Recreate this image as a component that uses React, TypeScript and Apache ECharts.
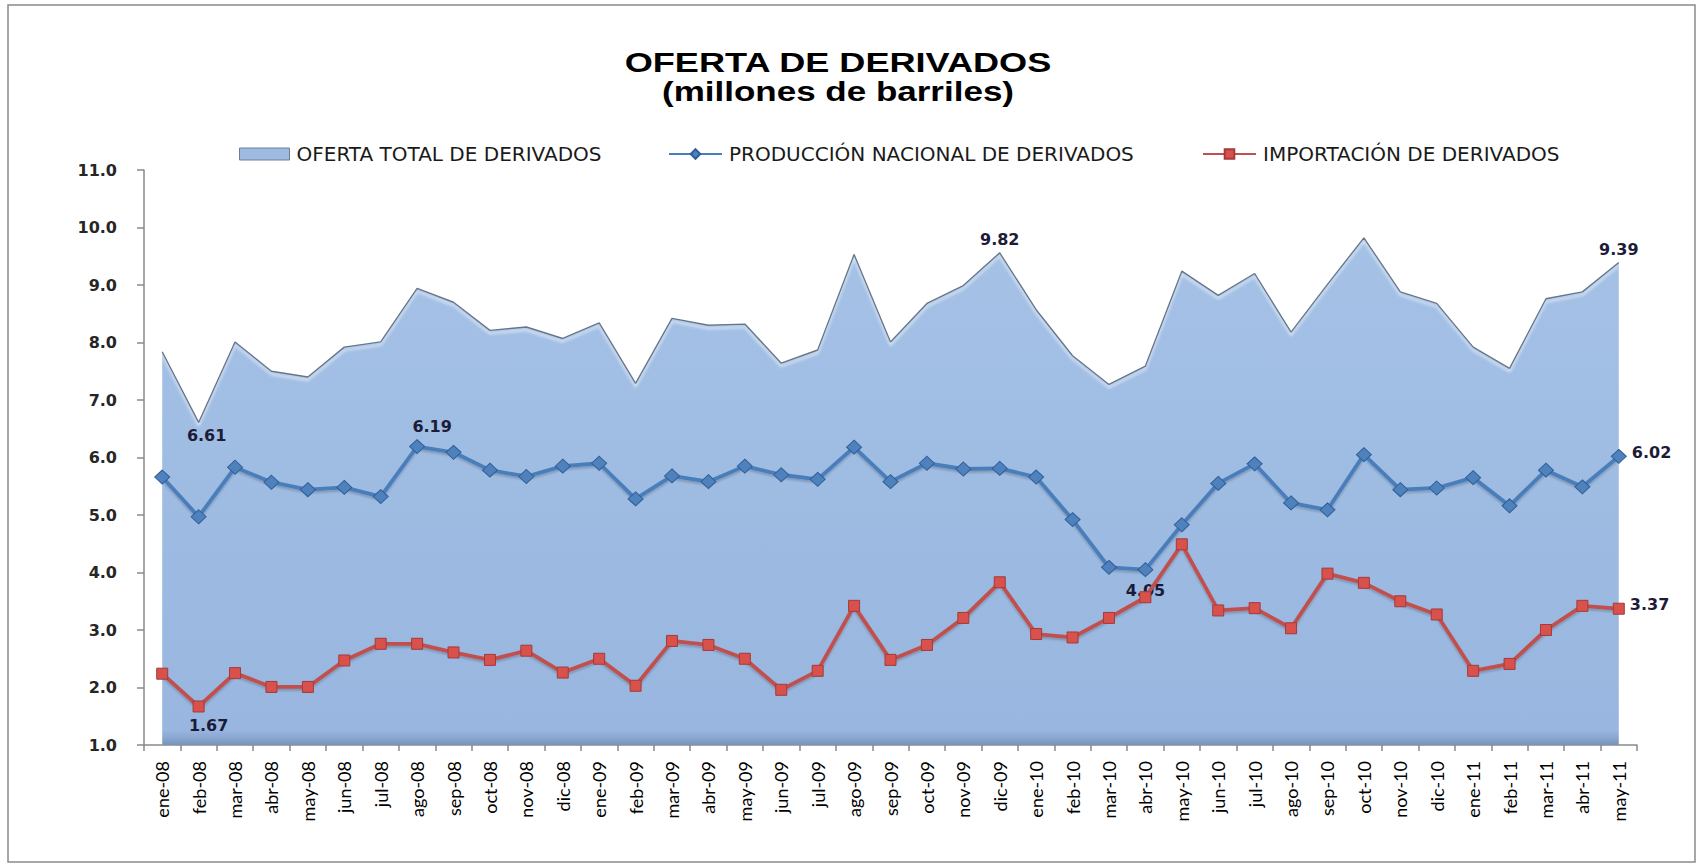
import React, { useEffect, useRef } from "react";
import * as echarts from "echarts";

const categories = [
  "ene-08", "feb-08", "mar-08", "abr-08", "may-08", "jun-08", "jul-08", "ago-08", "sep-08", "oct-08", "nov-08", "dic-08",
  "ene-09", "feb-09", "mar-09", "abr-09", "may-09", "jun-09", "jul-09", "ago-09", "sep-09", "oct-09", "nov-09", "dic-09",
  "ene-10", "feb-10", "mar-10", "abr-10", "may-10", "jun-10", "jul-10", "ago-10", "sep-10", "oct-10", "nov-10", "dic-10",
  "ene-11", "feb-11", "mar-11", "abr-11", "may-11",
];

const ofertaTotal = [
  7.84, 6.61, 8.01, 7.5, 7.4, 7.92, 8.01, 8.94, 8.7, 8.21, 8.27, 8.07,
  8.34, 7.29, 8.42, 8.3, 8.32, 7.64, 7.87, 9.53, 8.01, 8.68, 8.99, 9.56,
  8.57, 7.77, 7.27, 7.59, 9.24, 8.82, 9.2, 8.18, 9.01, 9.82, 8.88, 8.68,
  7.92, 7.55, 8.76, 8.88, 9.39,
];

const produccion = [
  5.66, 4.97, 5.83, 5.57, 5.44, 5.48, 5.32, 6.19, 6.09, 5.78, 5.67, 5.85,
  5.9, 5.28, 5.68, 5.58, 5.85, 5.7, 5.62, 6.18, 5.58, 5.9, 5.8, 5.81,
  5.66, 4.92, 4.09, 4.05, 4.83, 5.55, 5.89, 5.21, 5.09, 6.05, 5.44, 5.47,
  5.65, 5.16, 5.78, 5.49, 6.02,
];

const importacion = [
  2.24, 1.67, 2.25, 2.01, 2.01, 2.47, 2.76, 2.76, 2.61, 2.48, 2.64, 2.26,
  2.5, 2.03, 2.81, 2.74, 2.5, 1.96, 2.29, 3.42, 2.48, 2.74, 3.21, 3.83,
  2.93, 2.87, 3.21, 3.57, 4.49, 3.34, 3.38, 3.03, 3.98, 3.82, 3.5, 3.27,
  2.29, 2.41, 3.0, 3.42, 3.37,
];

const yTicks = [1, 11, 1]; // min, max, interval

const seriesNames = [
  "OFERTA TOTAL DE DERIVADOS",
  "PRODUCCIÓN NACIONAL DE DERIVADOS",
  "IMPORTACIÓN DE DERIVADOS",
];

const labelBase = {
  show: true,
  fontFamily: "DejaVu Sans",
  fontWeight: "bold",
  fontSize: 16,
  color: "#1c1c38",
  formatter: (p: any) => Number(p.value).toFixed(2),
};

function withLabels(values: number[], labels: Record<number, any>) {
  return values.map((v, i) =>
    labels[i] ? { value: v, label: { ...labelBase, ...labels[i] } } : v
  );
}

export default function App() {
  const ref = useRef<HTMLDivElement>(null);

  useEffect(() => {
    if (!ref.current) return;
    const chart = echarts.init(ref.current, undefined, { renderer: "svg" });

    const totalData = withLabels(ofertaTotal, {
      1: { position: "bottom", offset: [8, 0] },
      23: {
        position: "top",
        formatter: () => Math.max(...ofertaTotal).toFixed(2),
      },
      40: { position: "top" },
    });
    const prodData = withLabels(produccion, {
      7: { position: "top", offset: [15, 0] },
      27: { position: "bottom" },
      40: { position: "right", offset: [0, -4] },
    });
    const impData = withLabels(importacion, {
      1: { position: "bottom", offset: [10, 0] },
      40: { position: "right", offset: [0, -4] },
    });

    const legendText = {
      fontFamily: "DejaVu Sans",
      fontSize: 20,
      color: "#1a1a1a",
      padding: [0, 0, 0, 2],
    };

    chart.setOption({
      animation: false,
      backgroundColor: "#ffffff",
      graphic: [
        {
          type: "rect",
          shape: { x: 8, y: 5, width: 1687, height: 857 },
          style: { fill: "none", stroke: "#8a8a8a", lineWidth: 1.5 },
          silent: true,
        },
        {
          type: "text",
          x: 838,
          y: 62,
          scaleX: 1.29,
          style: {
            text: "OFERTA DE DERIVADOS",
            font: 'bold 28px "Liberation Sans", Arial, sans-serif',
            fill: "#000",
            textAlign: "center",
            textVerticalAlign: "middle",
          },
        },
        {
          type: "text",
          x: 838,
          y: 91,
          scaleX: 1.25,
          style: {
            text: "(millones de barriles)",
            font: 'bold 28px "Liberation Sans", Arial, sans-serif',
            fill: "#000",
            textAlign: "center",
            textVerticalAlign: "middle",
          },
        },
      ],
      legend: [
        {
          left: 234,
          top: 139,
          itemWidth: 50,
          itemHeight: 12,
          textStyle: legendText,
          data: [
            {
              name: seriesNames[0],
              icon: "rect",
              itemStyle: {
                color: "#9dbbe2",
                borderColor: "#6f7f93",
                borderWidth: 1,
              },
            },
          ],
        },
        {
          left: 663,
          top: 139,
          itemWidth: 53,
          itemHeight: 12,
          textStyle: legendText,
          data: [seriesNames[1]],
        },
        {
          left: 1197,
          top: 139,
          itemWidth: 53,
          itemHeight: 12,
          textStyle: legendText,
          data: [seriesNames[2]],
        },
      ],
      grid: { left: 144, top: 170, width: 1493, height: 575, containLabel: false },
      xAxis: {
        type: "category",
        data: categories,
        boundaryGap: true,
        axisLine: { show: true, lineStyle: { color: "#8a8a8a", width: 1.5 } },
        axisTick: { show: true, interval: 0, length: 6, lineStyle: { color: "#8a8a8a", width: 1.5 } },
        axisLabel: {
          rotate: 90,
          interval: 0,
          fontFamily: "Lato",
          fontSize: 18,
          color: "#000000",
          margin: 16,
        },
        splitLine: { show: false },
      },
      yAxis: {
        type: "value",
        min: yTicks[0],
        max: yTicks[1],
        interval: yTicks[2],
        axisLine: { show: true, lineStyle: { color: "#8a8a8a", width: 1.5 } },
        axisTick: { show: true, length: 7, lineStyle: { color: "#8a8a8a", width: 1.5 } },
        axisLabel: {
          formatter: (v: number) => v.toFixed(1),
          fontFamily: "DejaVu Sans",
          fontWeight: "bold",
          fontSize: 16,
          color: "#262626",
          margin: 27,
        },
        splitLine: { show: false },
      },
      series: [
        {
          name: seriesNames[0],
          type: "line",
          data: totalData,
          symbol: "circle",
          symbolSize: 0,
          showAllSymbol: true,
          itemStyle: { color: "#9dbbe2" },
          lineStyle: {
            color: "#66768a",
            width: 1.4,
            shadowColor: "rgba(255,255,255,0.9)",
            shadowBlur: 3,
            shadowOffsetY: 3,
          },
          areaStyle: {
            origin: "start",
            opacity: 1,
            color: new echarts.graphic.LinearGradient(0, 0, 0, 1, [
              { offset: 0, color: "#a5c1e6" },
              { offset: 0.97, color: "#98b6df" },
              { offset: 0.985, color: "#8aa8d2" },
              { offset: 1, color: "#7893bb" },
            ]),
          },
          z: 1,
        },
        {
          name: seriesNames[1],
          type: "line",
          data: prodData,
          symbol: "diamond",
          symbolSize: [15, 14],
          showAllSymbol: true,
          itemStyle: { color: "#4f81bd", borderColor: "#2f5f99", borderWidth: 1 },
          lineStyle: {
            color: "#4a7ebb",
            width: 3.8,
            shadowColor: "rgba(0,0,0,0.2)",
            shadowBlur: 2,
            shadowOffsetY: 2,
          },
          z: 3,
        },
        {
          name: seriesNames[2],
          type: "line",
          data: impData,
          symbol: "rect",
          symbolSize: 11,
          showAllSymbol: true,
          itemStyle: { color: "#d8514d", borderColor: "#a33b38", borderWidth: 1 },
          lineStyle: {
            color: "#c0504d",
            width: 3.8,
            shadowColor: "rgba(0,0,0,0.2)",
            shadowBlur: 2,
            shadowOffsetY: 2,
          },
          z: 4,
        },
      ],
    });

    return () => chart.dispose();
  }, []);

  return (
    <div
      ref={ref}
      style={{ position: "fixed", left: 0, top: 0, width: 1700, height: 866, background: "#fff" }}
    />
  );
}
